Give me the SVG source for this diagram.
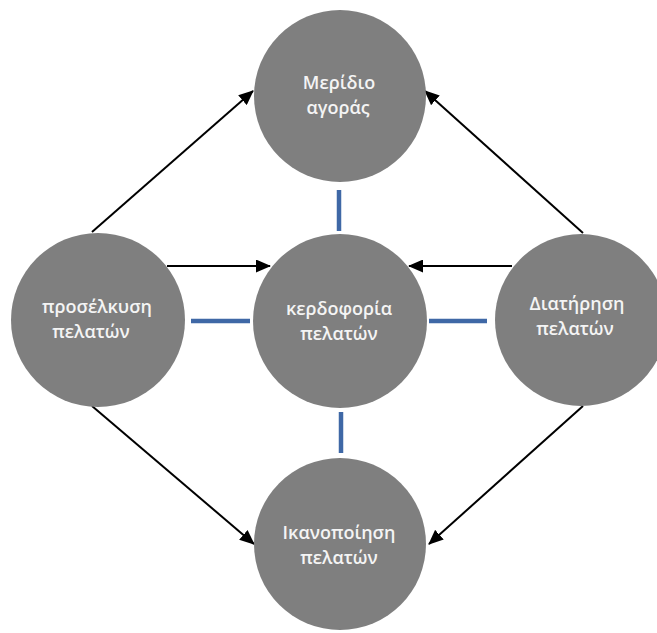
<svg xmlns="http://www.w3.org/2000/svg" width="657" height="633" viewBox="0 0 657 633">
<defs>
<marker id="ah" markerWidth="15" markerHeight="13" refX="14" refY="6.5" orient="auto" markerUnits="userSpaceOnUse" viewBox="0 0 15 13">
<path d="M0,0 L15,6.5 L0,13 z" fill="#000"/>
</marker>
<style>
.node{fill:#7f7f7f;}
.lbl{font-family:"Open Sans","Noto Sans","DejaVu Sans",sans-serif;font-size:18px;font-weight:600;fill:#f4f4f4;text-anchor:middle;}
.arr{stroke:#000;stroke-width:2;fill:none;marker-end:url(#ah);}
.link{stroke:#3f68a6;stroke-width:4.5;fill:none;}
</style>
</defs>
<rect width="657" height="633" fill="#fff"/>
<g id="connectors">
<line class="arr" x1="92" y1="232" x2="253" y2="91"/>
<line class="arr" x1="583" y1="233" x2="425" y2="91"/>
<line class="arr" x1="167" y1="266" x2="270" y2="266"/>
<line class="arr" x1="512" y1="266" x2="409" y2="266"/>
<line class="arr" x1="92" y1="406" x2="254" y2="544"/>
<line class="arr" x1="583" y1="406" x2="429" y2="544"/>
<line class="link" x1="339" y1="190" x2="339" y2="231"/>
<line class="link" x1="341" y1="412" x2="341" y2="453"/>
<line class="link" x1="191" y1="321" x2="250" y2="321"/>
<line class="link" x1="429" y1="321" x2="487" y2="321"/>
</g>
<g id="n-top">
<circle class="node" cx="340" cy="96" r="86"/>
<text class="lbl" x="339" y="89">Μερίδιο</text>
<text class="lbl" x="338" y="114">αγοράς</text>
</g>
<g id="n-center">
<circle class="node" cx="340" cy="321" r="87"/>
<text class="lbl" x="339" y="315">κερδοφορία</text>
<text class="lbl" x="339" y="340">πελατών</text>
</g>
<g id="n-left">
<circle class="node" cx="98" cy="320" r="87"/>
<text class="lbl" x="97" y="313">προσέλκυση</text>
<text class="lbl" x="91" y="338">πελατών</text>
</g>
<g id="n-right">
<circle class="node" cx="581" cy="320" r="86"/>
<text class="lbl" x="577" y="310">Διατήρηση</text>
<text class="lbl" x="575" y="335">πελατών</text>
</g>
<g id="n-bottom">
<circle class="node" cx="340" cy="544" r="86"/>
<text class="lbl" x="339" y="539">Ικανοποίηση</text>
<text class="lbl" x="339" y="564">πελατών</text>
</g>
</svg>
